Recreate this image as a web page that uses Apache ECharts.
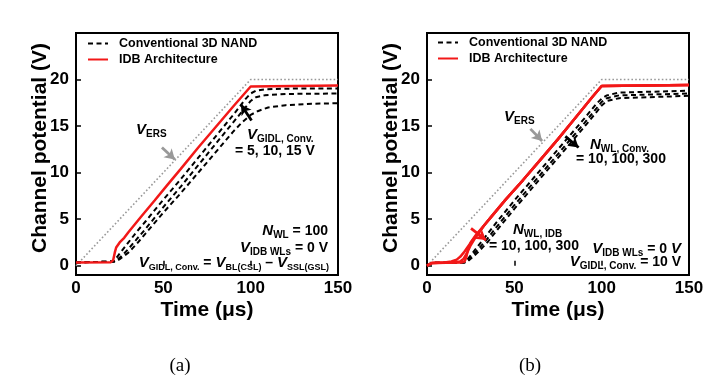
<!DOCTYPE html>
<html><head><meta charset="utf-8">
<script src="https://cdn.jsdelivr.net/npm/echarts@6/dist/echarts.min.js"></script>
<style>html,body{margin:0;padding:0;background:#fff}#c{width:721px;height:386px}</style>
</head><body><div id="c"></div>
<script>
// ---- data ----
const xTicks = [0, 50, 100, 150];
const yTicks = [0, 5, 10, 15, 20];
const versLine = [[0, 0], [100, 20], [150, 20]];
// panel (a): N_WL = 100, V_GIDL = 5, 10, 15 V
const aIdb = [[0,0.35],[20,0.38],[21.3,0.6],[22.2,1.4],[23,1.95],[25,2.5],[27.6,3.0],[30,3.6],[37,5.2],[45,7.0],[52,8.6],[60,10.4],[70,12.7],[80,14.9],[90,17.1],[100,19.25],[101,19.3],[150,19.35]];
const aConv15 = [[0,0.35],[21.5,0.45],[23,0.8],[25,1.3],[30,2.5],[35,3.7],[40,4.8],[50,7.1],[60,9.3],[70,11.6],[80,13.9],[90,16.2],[97,17.9],[100,18.5],[103,18.8],[108,18.95],[120,19.02],[150,19.05]];
const aConv10 = [[0,0.35],[22,0.45],[24,0.7],[27,1.2],[30,1.8],[35,2.9],[40,4.0],[50,6.3],[60,8.5],[70,10.8],[80,13.1],[90,15.4],[97,17.0],[100,17.7],[103,18.1],[108,18.3],[120,18.45],[150,18.5]];
const aConv5 = [[0,0.35],[22.5,0.45],[25,0.7],[30,1.4],[35,2.4],[40,3.5],[50,5.7],[60,7.8],[70,10.0],[80,12.2],[90,14.4],[95,15.4],[100,16.2],[104,16.6],[110,17.0],[120,17.25],[135,17.4],[150,17.45]];
// panel (b): N_WL = 10, 100, 300
const bIdb10 = [[0,0],[3,0.3],[10,0.35],[14,0.45],[17,0.65],[19,0.95],[21,1.4],[23.3,2.0],[26,2.7],[29,3.45],[33,4.4],[37,5.3],[45,7.1],[55,9.2],[65,11.4],[75,13.6],[85,15.9],[95,18.2],[100,19.3],[101,19.35],[150,19.4]];
const bIdb100 = [[0,0],[3,0.3],[15,0.35],[19,0.45],[21,0.75],[23,1.4],[25,2.2],[27,2.8],[30,3.6],[33,4.4],[37,5.3],[45,7.1],[55,9.2],[65,11.4],[75,13.6],[85,15.9],[95,18.2],[100,19.3],[101,19.35],[150,19.4]];
const bIdb300 = [[0,0],[3,0.3],[20,0.35],[21.5,0.45],[22.5,0.9],[23.5,1.8],[25,2.5],[28,3.3],[33,4.4],[37,5.3],[45,7.1],[55,9.2],[65,11.4],[75,13.6],[85,15.9],[95,18.2],[100,19.3],[101,19.35],[150,19.4]];
const bConv10 = [[0,0],[3,0.3],[21,0.35],[22.5,0.5],[25,1.1],[30,2.3],[35,3.5],[40,4.7],[50,7.0],[60,9.2],[70,11.4],[80,13.6],[90,15.8],[97,17.4],[100,17.95],[103,18.3],[110,18.6],[150,18.8]];
const bConv100 = [[0,0],[3,0.3],[21.5,0.35],[23,0.5],[25,0.9],[30,1.9],[35,3.0],[40,4.2],[50,6.5],[60,8.7],[70,10.9],[80,13.1],[90,15.3],[97,16.9],[100,17.6],[103,18.0],[110,18.3],[150,18.5]];
const bConv300 = [[0,0],[3,0.3],[22,0.35],[23.5,0.5],[26,0.9],[30,1.6],[35,2.6],[40,3.8],[50,6.1],[60,8.3],[70,10.5],[80,12.7],[90,14.9],[97,16.5],[100,17.2],[103,17.7],[110,18.0],[150,18.25]];
// annotation arrows (data coordinates: tail -> head)
const aArrowGidl = [[100.5,15.6],[94.5,17.3]];
const aArrowErs = [[49.2,12.7],[56.6,11.4]];
const bArrowConv = [[79.2,13.9],[86.8,12.7]];
const bArrowIdb = [[25.2,4.0],[33.8,2.75]];
const bArrowErs = [[59.2,14.7],[65.9,13.4]];

// ---- chart ----
const F = 'Arial, "Liberation Sans", sans-serif';
const RED = '#f21818';
const chart = echarts.init(document.getElementById('c'), null, {renderer: 'canvas'});

function grid(left) { return {left: left, top: 33, width: 262, height: 242, show: true, borderColor: '#000', borderWidth: 2, containLabel: false}; }
function xAx(gi) {
  return {type: 'value', gridIndex: gi, min: 0, max: 150, interval: 50,
    name: 'Time (\u03bcs)', nameLocation: 'middle', nameGap: 25, nameMoveOverlap: false,
    nameTextStyle: {fontFamily: F, fontWeight: 'bold', fontSize: 21, color: '#000'},
    axisLine: {show: false}, splitLine: {show: false},
    axisTick: {show: true, inside: true, length: 5, lineStyle: {color: '#000', width: 1.5}},
    axisLabel: {fontFamily: F, fontWeight: 'bold', fontSize: 17, color: '#000', margin: 5}};
}
function yAx(gi) {
  return {type: 'value', gridIndex: gi, min: -1, max: 25,
    name: 'Channel potential (V)', nameLocation: 'middle', nameGap: 25, nameRotate: 90, nameMoveOverlap: false,
    nameTextStyle: {fontFamily: F, fontWeight: 'bold', fontSize: 21, color: '#000', padding: [0, 0, 0, 12]},
    axisLine: {show: false}, splitLine: {show: false},
    axisTick: {show: true, inside: true, length: 5, customValues: yTicks, lineStyle: {color: '#000', width: 1.5}},
    axisLabel: {fontFamily: F, fontWeight: 'bold', fontSize: 17, color: '#000', margin: 7, customValues: yTicks}};
}
function conv(data, gi) {
  return {type: 'line', name: 'Conventional 3D NAND', data: data, xAxisIndex: gi, yAxisIndex: gi,
    symbol: 'none', silent: true, z: 3, color: '#000',
    lineStyle: {color: '#000', width: 2, type: [5, 3.5]}};
}
function idb(data, gi) {
  return {type: 'line', name: 'IDB Architecture', data: data, xAxisIndex: gi, yAxisIndex: gi,
    symbol: 'none', silent: true, z: 4, color: RED,
    lineStyle: {color: RED, width: 2.5, type: 'solid'}};
}
function arrow(pts, color) {
  return [{coord: pts[0], lineStyle: {color: color, width: 2.8, type: 'solid'}, symbol: 'none'}, {coord: pts[1], symbol: 'arrow', symbolSize: [9, 10]}];
}
function vers(gi, arrows) {
  return {type: 'line', name: 'VERS', data: versLine, xAxisIndex: gi, yAxisIndex: gi,
    symbol: 'none', silent: true, z: 2, color: '#999',
    lineStyle: {color: '#999', width: 1.6, type: [1.6, 2.2]},
    markLine: {silent: true, animation: false, symbol: ['none', 'arrow'], label: {show: false}, z: 6,
      emphasis: {disabled: true}, data: arrows}};
}
function legend(left, top) {
  return {orient: 'vertical', left: left, top: top, padding: 0, itemGap: 3, itemWidth: 20, itemHeight: 14,
    data: ['Conventional 3D NAND', 'IDB Architecture'], selectedMode: false,
    itemStyle: {opacity: 0},
    textStyle: {fontFamily: F, fontWeight: 'bold', fontSize: 12.5, color: '#000', padding: [0, 0, 0, 6]}};
}

const rich = {
  v: {fontFamily: F, fontSize: 15, fontWeight: 'bold', fontStyle: 'italic', color: '#000', lineHeight: 18},
  s: {fontFamily: F, fontSize: 10, fontWeight: 'bold', color: '#000', lineHeight: 9, verticalAlign: 'bottom'},
  s9: {fontFamily: F, fontSize: 9, fontWeight: 'bold', color: '#000', lineHeight: 9, verticalAlign: 'bottom'},
  t: {fontFamily: F, fontSize: 14, fontWeight: 'bold', color: '#000', lineHeight: 18},
  gv: {fontFamily: F, fontSize: 15, fontWeight: 'bold', fontStyle: 'italic', color: '#999', lineHeight: 18},
  gs: {fontFamily: F, fontSize: 10, fontWeight: 'bold', color: '#999', lineHeight: 9, verticalAlign: 'bottom'}
};
function txt(x, y, text, align) {
  return {type: 'text', x: x, y: y, silent: true, z: 10,
    style: {text: text, rich: rich, align: align || 'left', verticalAlign: 'middle', fill: '#000',
      font: 'bold 14px ' + F}};
}

chart.setOption({
  animation: false,
  backgroundColor: '#fff',
  grid: [grid(76), grid(427)],
  xAxis: [xAx(0), xAx(1)],
  yAxis: [yAx(0), yAx(1)],
  legend: [legend(87, 37), legend(437, 36)],
  series: [
    vers(0, [arrow(aArrowGidl, '#000'), arrow(aArrowErs, '#999')]),
    conv(aConv15, 0), conv(aConv10, 0), conv(aConv5, 0),
    idb(aIdb, 0),
    vers(1, [arrow(bArrowConv, '#000'), arrow(bArrowIdb, RED), arrow(bArrowErs, '#999')]),
    conv(bConv10, 1), conv(bConv100, 1), conv(bConv300, 1),
    idb(bIdb10, 1), idb(bIdb100, 1), idb(bIdb300, 1)
  ],
  graphic: [
    txt(247, 135, '{v|V}{s|GIDL, Conv.}'),
    txt(235, 151, '{t|= 5, 10, 15 V}'),
    txt(136, 130, '{gv|V}{gs|ERS}'),
    txt(328, 231, '{v|N}{s|WL}{t| = 100}', 'right'),
    txt(328, 248, '{v|V}{s|IDB WLs}{t| = 0 V}', 'right'),
    txt(329, 263, '{v|V}{s9|GIDL, Conv.}{t| = }{v|V}{s9|BL(CSL)}{t| \u2013 }{v|V}{s9|SSL(GSL)}', 'right'),
    txt(590, 145, '{v|N}{s|WL, Conv.}'),
    txt(576, 159, '{t|= 10, 100, 300}'),
    txt(513, 230, '{v|N}{s|WL, IDB}'),
    txt(489, 246, '{t|= 10, 100, 300}'),
    txt(504, 117, '{gv|V}{gs|ERS}'),
    txt(681, 249, '{v|V}{s|IDB WLs}{t| = 0 }{v|V}', 'right'),
    txt(681, 262, '{v|V}{s|GIDL, Conv.}{t| = 10 V}', 'right'),
    {type: 'text', x: 180, y: 366, silent: true, style: {text: '(a)', align: 'center', verticalAlign: 'middle', font: '19px "Liberation Serif", "Times New Roman", serif', fill: '#000'}},
    {type: 'text', x: 530, y: 366, silent: true, style: {text: '(b)', align: 'center', verticalAlign: 'middle', font: '19px "Liberation Serif", "Times New Roman", serif', fill: '#000'}}
  ]
});
</script></body></html>
